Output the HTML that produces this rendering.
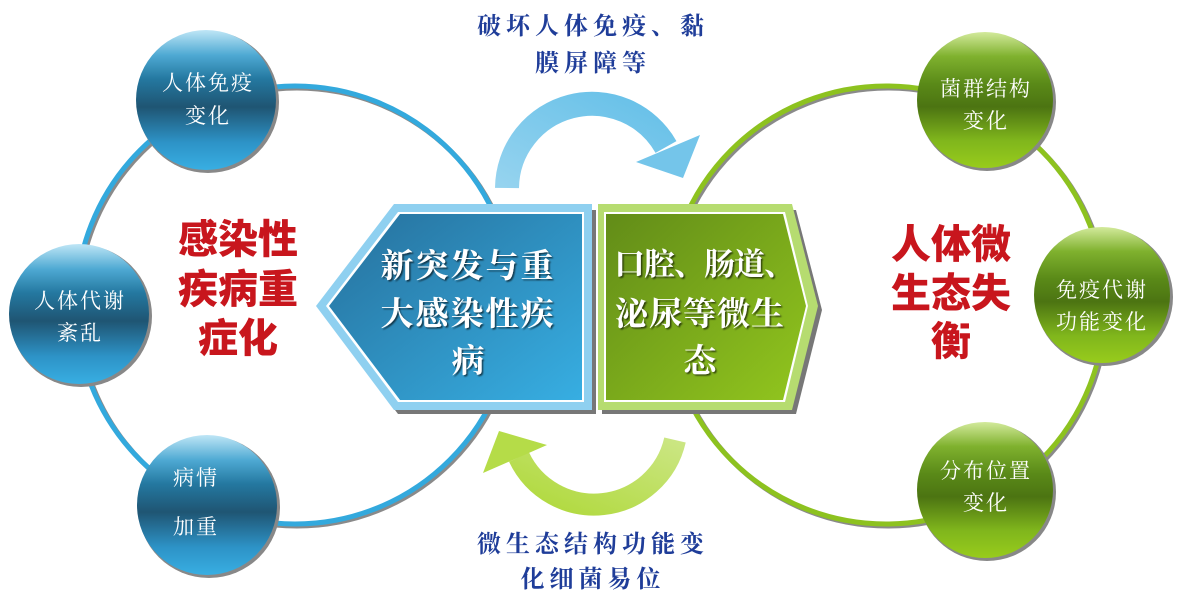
<!DOCTYPE html>
<html><head><meta charset="utf-8"><style>
html,body{margin:0;padding:0;background:#fff;}
svg{display:block}
.kt{font-family:"Liberation Serif","Noto Serif CJK SC",serif;}
.red{font-family:"Liberation Sans","Noto Sans CJK SC",sans-serif;font-weight:900;fill:#c8161d;font-size:40px;}
</style></head><body>
<svg width="1181" height="602" viewBox="0 0 1181 602" xmlns="http://www.w3.org/2000/svg">
<defs>
<linearGradient id="bc" x1="0" y1="0" x2="0" y2="1">
<stop offset="0" stop-color="#bfe6f6"/><stop offset="0.18" stop-color="#4ea9d3"/><stop offset="0.35" stop-color="#2478a0"/><stop offset="0.55" stop-color="#1f5573"/><stop offset="0.8" stop-color="#2d92c6"/><stop offset="1" stop-color="#38aee2"/>
</linearGradient>
<linearGradient id="gc" x1="0" y1="0" x2="0" y2="1">
<stop offset="0" stop-color="#d3ea9c"/><stop offset="0.18" stop-color="#7fb12e"/><stop offset="0.38" stop-color="#5a8a18"/><stop offset="0.55" stop-color="#4c7412"/><stop offset="0.8" stop-color="#80b61c"/><stop offset="1" stop-color="#98cc1c"/>
</linearGradient>
<linearGradient id="bh" x1="0" y1="0" x2="1" y2="1">
<stop offset="0" stop-color="#26709c"/><stop offset="1" stop-color="#37aee2"/>
</linearGradient>
<linearGradient id="gh" x1="0" y1="0" x2="1" y2="1">
<stop offset="0" stop-color="#628c18"/><stop offset="1" stop-color="#92c61e"/>
</linearGradient>
<linearGradient id="ba" x1="0" y1="1" x2="1" y2="0">
<stop offset="0" stop-color="#95d3ef"/><stop offset="1" stop-color="#66c0e8"/>
</linearGradient>
<linearGradient id="ga" x1="0" y1="1" x2="1" y2="0">
<stop offset="0" stop-color="#b0d93c"/><stop offset="1" stop-color="#cbe683"/>
</linearGradient>
<filter id="ts"><feDropShadow dx="1.5" dy="1.5" stdDeviation="0.8" flood-color="#000" flood-opacity="0.6"/></filter>
</defs>

<circle cx="297" cy="307" r="219" fill="none" stroke="#8a8a8a" stroke-width="5"/>
<circle cx="295" cy="305" r="219" fill="none" stroke="#33a9dd" stroke-width="5"/>
<circle cx="888" cy="307" r="219" fill="none" stroke="#8a8a8a" stroke-width="5"/>
<circle cx="886" cy="305" r="219" fill="none" stroke="#8dc21f" stroke-width="5"/>

<path d="M507 188 A85 85 0 0 1 666 147" fill="none" stroke="url(#ba)" stroke-width="24"/>
<polygon points="636,162 700,135 683,178" fill="#74c5ea"/>
<path d="M675 440 A83 83 0 0 1 519 457" fill="none" stroke="url(#ga)" stroke-width="22"/>
<polygon points="499,431 547,445 483,473" fill="#b5dc48"/>

<polygon points="320,310 398,210 596,210 596,414 398,414" fill="#777"/>
<polygon points="316,306 394,204 592,204 592,410 394,410" fill="#8fd0f0"/>
<polygon points="326,306 398,212 584,212 584,402 398,402" fill="#fff"/>
<polygon points="329,306 400,214 582,214 582,400 400,400" fill="url(#bh)"/>

<polygon points="602,210 796,210 822,310 796,414 602,414" fill="#777"/>
<polygon points="598,204 792,204 818,306 792,410 598,410" fill="#b6dc70"/>
<polygon points="604,212 785,212 808,306 785,402 604,402" fill="#fff"/>
<polygon points="606,214 783,214 806,306 783,400 606,400" fill="url(#gh)"/>

<g class="kt" fill="#fff" font-size="33" font-weight="bold" text-anchor="middle" filter="url(#ts)">
<text x="468" y="277" letter-spacing="2">新突发与重</text>
<text x="468" y="325" letter-spacing="2">大感染性疾</text>
<text x="468" y="372">病</text>
<text x="704" y="275" font-size="31" letter-spacing="-1">口腔、肠道、</text>
<text x="700" y="325" letter-spacing="1">泌尿等微生</text>
<text x="700" y="372">态</text>
</g>

<g>
<circle cx="208" cy="102" r="71" fill="#888"/>
<circle cx="206" cy="100" r="70" fill="url(#bc)"/>
<circle cx="81" cy="316" r="71" fill="#888"/>
<circle cx="79" cy="314" r="70" fill="url(#bc)"/>
<circle cx="209" cy="507" r="71" fill="#888"/>
<circle cx="207" cy="505" r="70" fill="url(#bc)"/>
<circle cx="987" cy="102" r="69" fill="#888"/>
<circle cx="985" cy="100" r="68" fill="url(#gc)"/>
<circle cx="1104" cy="297" r="69" fill="#888"/>
<circle cx="1102" cy="295" r="68" fill="url(#gc)"/>
<circle cx="987" cy="492" r="69" fill="#888"/>
<circle cx="985" cy="490" r="68" fill="url(#gc)"/>
</g>
<g class="kt" fill="#fff" font-size="21" text-anchor="middle" letter-spacing="2">
<text x="208" y="90">人体免疫</text>
<text x="208" y="123">变化</text>
<text x="80" y="308">人体代谢</text>
<text x="80" y="340">紊乱</text>
<text x="196" y="485">病情</text>
<text x="196" y="534">加重</text>
<text x="986" y="96">菌群结构</text>
<text x="986" y="128">变化</text>
<text x="1102" y="297">免疫代谢</text>
<text x="1102" y="329">功能变化</text>
<text x="986" y="478">分布位置</text>
<text x="986" y="510">变化</text>
</g>

<g class="red" text-anchor="middle">
<text x="238" y="253">感染性</text>
<text x="238" y="303">疾病重</text>
<text x="238" y="352">症化</text>
<text x="951" y="258">人体微</text>
<text x="951" y="307">生态失</text>
<text x="951" y="355">衡</text>
</g>

<g class="kt" fill="#1f3d99" font-size="24" font-weight="bold" text-anchor="middle" letter-spacing="5">
<text x="593" y="34">破坏人体免疫、黏</text>
<text x="593" y="71">膜屏障等</text>
<text x="593" y="552">微生态结构功能变</text>
<text x="593" y="587">化细菌易位</text>
</g>
</svg>
</body></html>
